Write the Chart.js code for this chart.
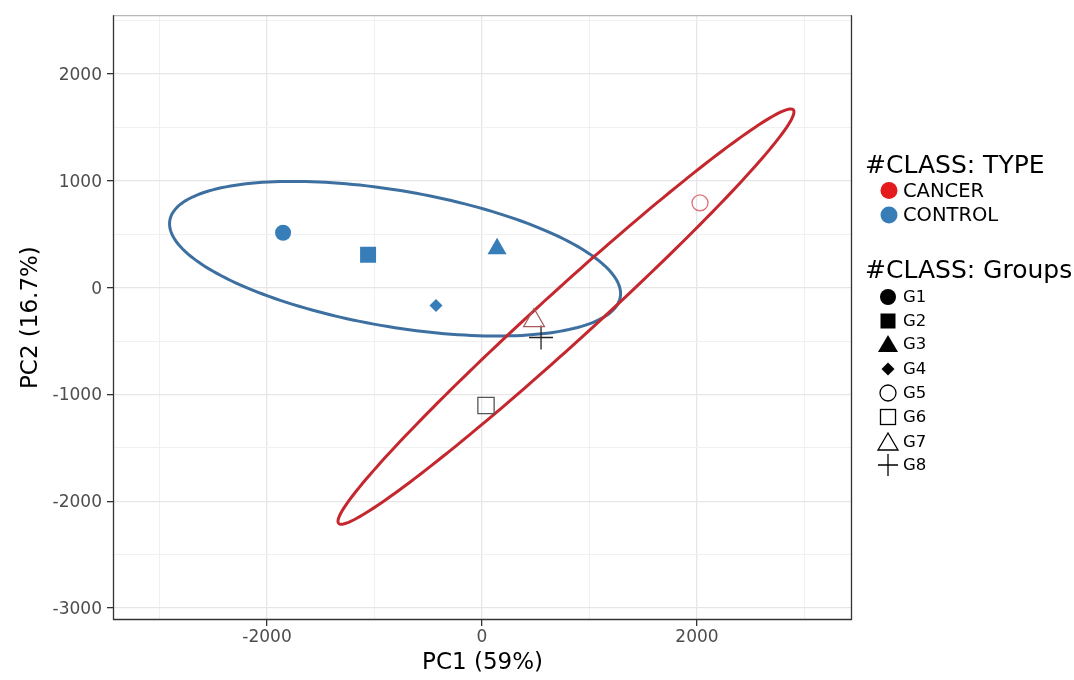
<!DOCTYPE html>
<html>
<head>
<meta charset="utf-8">
<script src="https://cdn.jsdelivr.net/npm/chart.js@4.4.1/dist/chart.umd.min.js"></script>
<style>
  html, body { margin: 0; padding: 0; background: #fff; }
  #wrap { position: relative; width: 1074px; height: 680px; overflow: hidden; }
  #chart { position: absolute; left: 0; top: 0; }
  .lg { position: absolute; font-family: 'DejaVu Sans', sans-serif; color: #000; white-space: nowrap; line-height: 30px; height: 30px; }
  #symbols { position: absolute; left: 0; top: 0; }
</style>
</head>
<body>
<div id="wrap">
  <canvas id="chart" width="1074" height="680"></canvas>
  <svg id="symbols" width="1074" height="680"></svg>
</div>
<script>
// PCA scores
const groups = ["G1", "G2", "G3", "G4", "G5", "G6", "G7", "G8"]
const classType = ["CONTROL", "CONTROL", "CONTROL", "CONTROL", "CANCER", "CANCER", "CANCER", "CANCER"]
const pc1 = [-1851, -1060, 140, -428, 2028, 37, 484, 549]
const pc2 = [514, 308, 364, -168, 794, -1103, -308, -467]

// confidence ellipses: centre, spread along PC1 / PC2, correlation
const ellipseTypes = ["CONTROL", "CANCER"]
const ellipseCx = [-809, 781]
const ellipseCy = [271, -271]
const ellipseSx = [2098, 2121]
const ellipseSy = [724, 1944]
const ellipseRho = [-0.4515, 0.9857]

const typeLabels = ["CANCER", "CONTROL"]
// labelled ticks and the finer grid between them
const xTickLabels = [-2000, 0, 2000]
const yTickLabels = [-3000, -2000, -1000, 0, 1000, 2000]
const xGrid = [-3000, -2000, -1000, 0, 1000, 2000, 3000]
const yGrid = [-3000, -2500, -2000, -1500, -1000, -500, 0, 500, 1000, 1500, 2000, 2500]

const typeColor = { CANCER: "#E41A1C", CONTROL: "#377EB8" }
const ellipseColor = { CANCER: "#c4272d", CONTROL: "#3d70a0" }

// marker look per group
const markerStyle = {
  G1: { style: "circle", r: 8, fill: true },
  G2: { style: "rect", r: 11.3, fill: true },
  G3: { style: "triangle", r: 11, fill: true },
  G4: { style: "rectRot", r: 6.5, fill: true },
  G5: { style: "circle", r: 8, fill: false, color: "#e0707a" },
  G6: { style: "rect", r: 11.5, fill: false, color: "#555555" },
  G7: { style: "triangle", r: 12, fill: false, color: "#a85a5a" },
  G8: { style: "cross", r: 12, fill: false, color: "#222222" },
}

Chart.defaults.font.family = "'DejaVu Sans', sans-serif"

const datasets = groups.map((g, i) => {
  const m = markerStyle[g]
  const col = m.color || typeColor[classType[i]]
  return {
    label: g,
    data: [{ x: pc1[i], y: pc2[i] }],
    pointStyle: m.style,
    pointRadius: m.r,
    pointHoverRadius: m.r,
    backgroundColor: m.fill ? col : "rgba(0,0,0,0)",
    borderColor: col,
    borderWidth: m.fill ? 0 : 1.3,
  }
})

const ellipsePlugin = {
  id: "ellipses",
  beforeDatasetsDraw(chart) {
    const { ctx, chartArea, scales } = chart
    ctx.save()
    ctx.beginPath()
    ctx.rect(chartArea.left, chartArea.top, chartArea.width, chartArea.height)
    ctx.clip()
    ellipseTypes.forEach((t, i) => {
      const rho = ellipseRho[i]
      const k = Math.sqrt(1 - rho * rho)
      ctx.beginPath()
      for (let s = 0; s <= 200; s++) {
        const a = (s / 200) * Math.PI * 2
        const vx = ellipseCx[i] + ellipseSx[i] * Math.cos(a)
        const vy = ellipseCy[i] + ellipseSy[i] * (rho * Math.cos(a) + k * Math.sin(a))
        const px = scales.x.getPixelForValue(vx)
        const py = scales.y.getPixelForValue(vy)
        if (s === 0) ctx.moveTo(px, py)
        else ctx.lineTo(px, py)
      }
      ctx.closePath()
      ctx.lineWidth = 3
      ctx.strokeStyle = ellipseColor[t]
      ctx.stroke()
    })
    ctx.restore()
  },
}

// panel border like theme_bw
const framePlugin = {
  id: "frame",
  afterDraw(chart) {
    const { ctx, chartArea: a } = chart
    ctx.save()
    ctx.lineWidth = 1.3
    ctx.strokeStyle = "#b8b8b8"
    ctx.beginPath()
    ctx.moveTo(a.left, a.top + 0.5)
    ctx.lineTo(a.right, a.top + 0.5)
    ctx.stroke()
    ctx.strokeStyle = "#333333"
    ctx.beginPath()
    ctx.moveTo(a.right - 0.5, a.top)
    ctx.lineTo(a.right - 0.5, a.bottom - 0.5)
    ctx.lineTo(a.left + 0.5, a.bottom - 0.5)
    ctx.lineTo(a.left + 0.5, a.top)
    ctx.stroke()
    ctx.restore()
  },
}

const isMajorX = (v) => xTickLabels.includes(v)
const isMajorY = (v) => yTickLabels.includes(v)

new Chart(document.getElementById("chart"), {
  type: "scatter",
  data: { datasets },
  options: {
    responsive: false,
    animation: false,
    devicePixelRatio: 1,
    layout: { padding: { top: 14, right: 222, bottom: 0, left: 0 } },
    plugins: { legend: { display: false }, tooltip: { enabled: false } },
    scales: {
      x: {
        type: "linear",
        min: -3433,
        max: 3442,
        afterBuildTicks: (s) => { s.ticks = xGrid.map((v) => ({ value: v })) },
        afterFit: (s) => { s.height = 60 },
        ticks: {
          autoSkip: false,
          maxRotation: 0,
          padding: 1,
          color: "#4d4d4d",
          font: { size: 17 },
          callback: (v) => (isMajorX(v) ? String(v) : ""),
        },
        grid: {
          color: (c) => (c.tick && isMajorX(c.tick.value) ? "#e6e6e6" : "#f0f0f0"),
          lineWidth: (c) => (c.tick && isMajorX(c.tick.value) ? 1.3 : 1),
          tickColor: (c) => (c.tick && isMajorX(c.tick.value) ? "#333333" : "rgba(0,0,0,0)"),
          tickLength: 6,
        },
        border: { display: false },
        title: { display: true, text: "PC1 (59%)", color: "#000", font: { size: 23 }, padding: { top: 0, bottom: 3 } },
      },
      y: {
        type: "linear",
        min: -3112,
        max: 2551,
        afterBuildTicks: (s) => { s.ticks = yGrid.map((v) => ({ value: v })) },
        afterFit: (s) => { s.width = 113 },
        ticks: {
          autoSkip: false,
          padding: 5,
          labelOffset: 1.5,
          color: "#4d4d4d",
          font: { size: 17 },
          callback: (v) => (isMajorY(v) ? String(v) : ""),
        },
        grid: {
          color: (c) => (c.tick && isMajorY(c.tick.value) ? "#e6e6e6" : "#f0f0f0"),
          lineWidth: (c) => (c.tick && isMajorY(c.tick.value) ? 1.3 : 1),
          tickColor: (c) => (c.tick && isMajorY(c.tick.value) ? "#333333" : "rgba(0,0,0,0)"),
          tickLength: 6,
        },
        border: { display: false },
        title: { display: true, text: "PC2 (16.7%)", color: "#000", font: { size: 23 }, padding: { top: 17, bottom: 0 } },
      },
    },
  },
  plugins: [ellipsePlugin, framePlugin],
})

// legend (two guides, like ggplot)
const wrap = document.getElementById("wrap")
const svg = document.getElementById("symbols")
function addText(text, left, cy, size) {
  const d = document.createElement("div")
  d.className = "lg"
  d.textContent = text
  d.style.left = left + "px"
  d.style.top = cy - 15 + "px"
  d.style.fontSize = size + "px"
  wrap.appendChild(d)
}
function addSvg(markup) {
  svg.insertAdjacentHTML("beforeend", markup)
}

const symX = 888
const textX = 903
addText("#CLASS: TYPE", 865, 164.5, 25)
const typeRows = [190.5, 215]
typeLabels.forEach((t, i) => {
  addSvg(`<circle cx="${symX + 1}" cy="${typeRows[i]}" r="8.5" fill="${typeColor[t]}"/>`)
  addText(t, textX, typeRows[i], 19.5)
})

addText("#CLASS: Groups", 865, 269.5, 25)
const groupRows = [297, 321, 344, 369, 393, 417, 442, 465]
groups.forEach((g, i) => {
  const cy = groupRows[i]
  const m = markerStyle[g]
  const fill = m.fill ? "#000" : "none"
  const stroke = 'stroke="#000" stroke-width="1.3"'
  let shape = ""
  if (m.style === "circle") shape = `<circle cx="${symX}" cy="${cy}" r="8" fill="${fill}" ${m.fill ? "" : stroke}/>`
  else if (m.style === "rect") shape = `<rect x="${symX - 7.5}" y="${cy - 7.5}" width="15" height="15" fill="${fill}" ${m.fill ? "" : stroke}/>`
  else if (m.style === "triangle") shape = `<polygon points="${symX},${cy - 9} ${symX - 10},${cy + 8} ${symX + 10},${cy + 8}" fill="${fill}" ${m.fill ? "" : stroke}/>`
  else if (m.style === "rectRot") shape = `<polygon points="${symX},${cy - 6.5} ${symX + 6.5},${cy} ${symX},${cy + 6.5} ${symX - 6.5},${cy}" fill="#000"/>`
  else if (m.style === "cross") shape = `<path d="M${symX - 10} ${cy} H${symX + 10} M${symX} ${cy - 11} V${cy + 11}" ${stroke} fill="none"/>`
  addSvg(shape)
  addText(g, textX, cy, 16.5)
})
</script>
</body>
</html>
